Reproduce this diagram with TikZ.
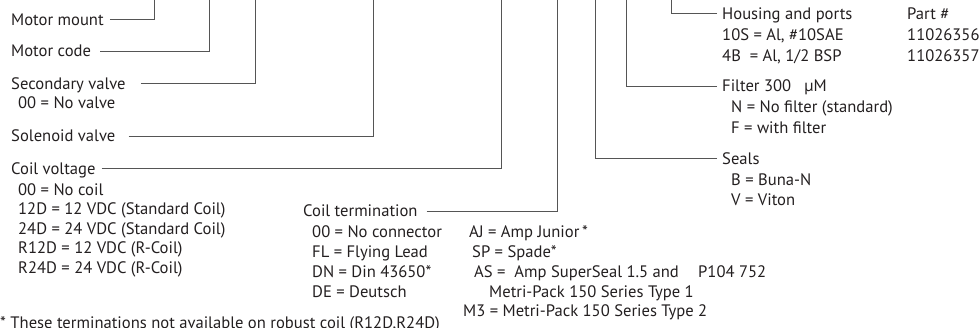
\documentclass[tikz,border=0pt]{standalone}
\usepackage{fontspec}
\setmainfont{PT Sans}
\definecolor{txt}{HTML}{231F20}
\definecolor{ln}{HTML}{555555}
\begin{document}
\begin{tikzpicture}[x={(1pt,0)},y={(0,-1pt)},
  lbl/.style={inner sep=0pt, text height=12pt, text depth=0pt, anchor=west, text=txt, font=\fontsize{16.6}{19}\selectfont},
  conn/.style={draw=ln, line width=0.9pt}]
\useasboundingbox (0,0) rectangle (979,328);
\clip (0,0) rectangle (979,328);
% top ends
\coordinate (t1) at (154,0);
\coordinate (t2) at (209,0);
\coordinate (t3) at (255,0);
\coordinate (t4) at (373,0);
\coordinate (t5) at (501,0);
\coordinate (t6) at (557,0);
\coordinate (t7) at (595,0);
\coordinate (t8) at (626,0);
\coordinate (t9) at (671,0);
% left column
\node[lbl] (mm) at (11,19.5) {Motor mount};
\node[lbl] (mc) at (11,51) {Motor code};
\node[lbl] (sv) at (11,83.5) {Secondary valve};
\node[lbl] (sv0) at (18,103) {00 = No valve};
\node[lbl] (sol) at (11,136) {Solenoid valve};
\node[lbl] (cv) at (11,168.5) {Coil voltage};
\node[lbl] (cv1) at (18,189.5) {00 = No coil};
\node[lbl] (cv2) at (18,209) {12D = 12 VDC (Standard Coil)};
\node[lbl] (cv3) at (18,228.5) {24D = 24 VDC (Standard Coil)};
\node[lbl] (cv4) at (18,248) {R12D = 12 VDC (R-Coil)};
\node[lbl] (cv5) at (18,267.5) {R24D = 24 VDC (R-Coil)};
% coil termination
\node[lbl] (ct) at (303,211) {Coil termination};
\node[lbl] (ct1) at (312,232) {00 = No connector};
\node[lbl] (ct2) at (312,252) {FL = Flying Lead};
\node[lbl] (ct3) at (312,272) {DN = Din 43650*};
\node[lbl] (ct4) at (312,292) {DE = Deutsch};
\node[lbl] (ct5) at (469,232) {AJ = Amp Junior\,*};
\node[lbl] (ct6) at (472,252) {SP = Spade*};
\node[lbl] (ct7) at (474,272) {AS =\ \ Amp SuperSeal 1.5 and};
\node[lbl] (ct8) at (489,292) {Metri-Pack 150 Series Type 1};
\node[lbl] (ct9) at (463,310.5) {M3 = Metri-Pack 150 Series Type 2};
\node[lbl] (pno) at (698,272) {P104 752};
\node[lbl] (foot) at (0,322) {* These terminations not available on robust coil (R12D,R24D)};
% right column
\node[lbl] (hp) at (722,13.5) {Housing and ports};
\node[lbl] (hp1) at (722,34.5) {10S = Al, \#10SAE};
\node[lbl] (hp2) at (722,55.5) {4B\ \ = Al, 1/2 BSP};
\node[lbl] (pn) at (907,13.5) {Part \#};
\node[lbl] (pn1) at (907,34.5) {11026356};
\node[lbl] (pn2) at (907,55.5) {11026357};
\node[lbl] (fi) at (722,86) {Filter 300\ \ \ µM};
\node[lbl] (fi1) at (731,107) {N = No filter (standard)};
\node[lbl] (fi2) at (731,128) {F = with filter};
\node[lbl] (se) at (722,158.5) {Seals};
\node[lbl] (se1) at (731,179.5) {B = Buna-N};
\node[lbl] (se2) at (731,200) {V = Viton};
% connectors
\draw[conn] ([xshift=6pt]mm.east) -| (t1);
\draw[conn] ([xshift=9pt]mc.east) -| (t2);
\draw[conn] ([xshift=15pt]sv.east) -| (t3);
\draw[conn] ([xshift=13pt]sol.east) -| (t4);
\draw[conn] ([xshift=6pt]cv.east) -| (t5);
\draw[conn] ([xshift=9pt]ct.east) -| (t6);
\draw[conn] ([xshift=-5pt]se.west) -| (t7);
\draw[conn] ([xshift=-5pt]fi.west) -| (t8);
\draw[conn] ([xshift=-5pt]hp.west) -| (t9);
\end{tikzpicture}
\end{document}
